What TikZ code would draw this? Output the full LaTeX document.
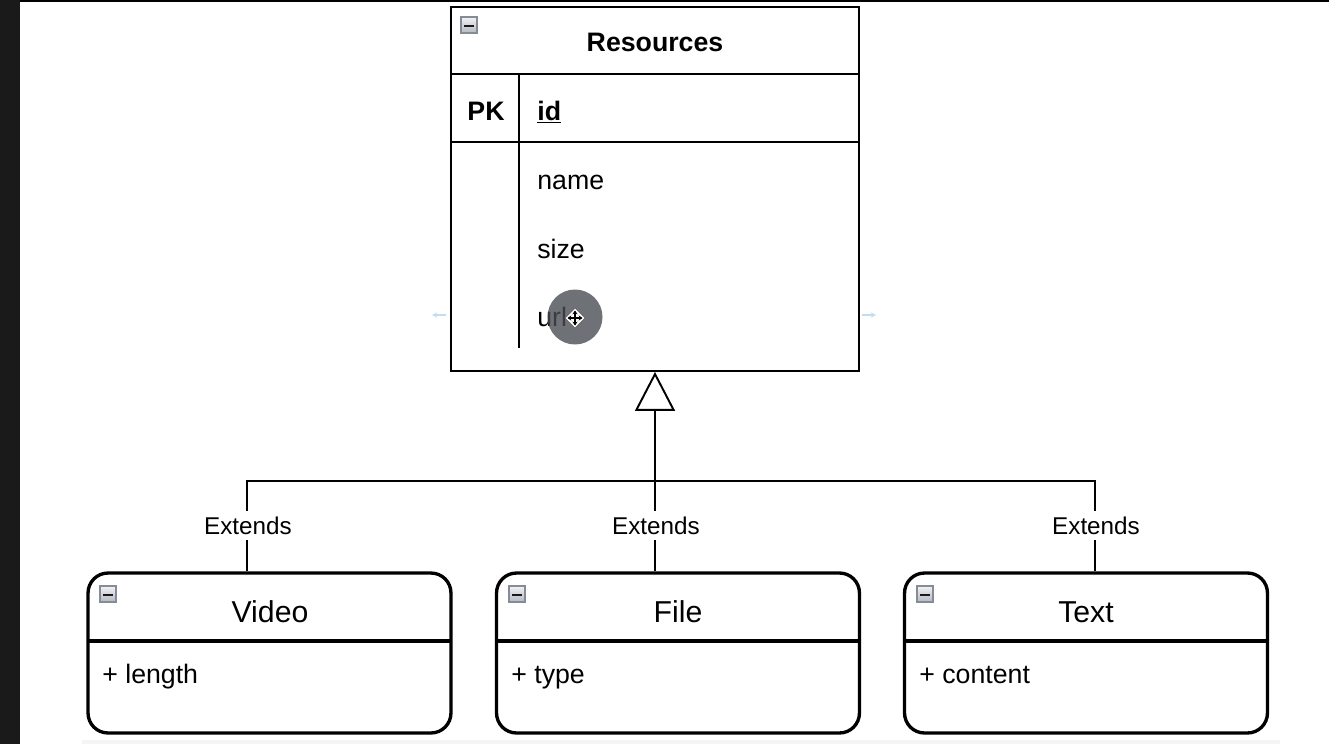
\documentclass[tikz,border=0pt]{standalone}
\usepackage{fontspec}
\setmainfont{Liberation Sans}
\usetikzlibrary{arrows.meta}
\definecolor{stripcol}{HTML}{1A1A1A}
\definecolor{hintblue}{HTML}{C4DDEE}
\definecolor{iconborder}{HTML}{868B98}
\definecolor{icontop}{HTML}{F2F2F4}
\definecolor{iconbot}{HTML}{B4B8C2}
\definecolor{cursorcol}{HTML}{4A4D53}
\begin{document}
\begin{tikzpicture}[x=0.02cm,y=-0.02cm,
  resbox/.style={draw, line width=1.1pt, minimum width=8.16cm, minimum height=7.28cm, inner sep=0pt},
  clsbox/.style={draw, line width=1.9pt, rounded corners=0.4cm, minimum width=7.26cm, minimum height=3.2cm, inner sep=0pt},
  thinline/.style={line width=1.1pt},
  clsline/.style={line width=1.9pt},
  conn/.style={line width=1.1pt},
  rowtxt/.style={font=\fontsize{15.2}{18}\selectfont, inner sep=0pt},
  boldtxt/.style={font=\bfseries\fontsize{15.2}{18}\selectfont, inner sep=0pt},
  titletxt/.style={font=\fontsize{17.2}{20}\selectfont, inner sep=0pt, anchor=base},
  lbl/.style={font=\fontsize{13.8}{16}\selectfont, fill=white, inner xsep=1pt, inner ysep=3pt, anchor=base},
  minusicon/.style={draw=iconborder, line width=0.9pt, top color=icontop, bottom color=iconbot,
    minimum size=0.32cm, inner sep=0pt,
    path picture={\draw[line width=1.5pt, black!90] ([xshift=0.06cm,yshift=-0.02cm]path picture bounding box.west) -- ([xshift=-0.06cm,yshift=-0.02cm]path picture bounding box.east);}},
  hint/.style={hintblue, line width=0.8pt, -{Stealth[length=3pt,width=3pt]}},
  movearrow/.style={black, line width=0.7pt, {Stealth[length=2.2pt,width=3pt]}-{Stealth[length=2.2pt,width=3pt]}}
]
\useasboundingbox (0,0) rectangle (1329,744);
% screen frame
\fill[stripcol] (0,0) rectangle (20,744);
\fill[black] (20,0) rectangle (1329,1.6);
\fill[gray!8] (82,740) rectangle (1280,744);

% Resources entity
\node[resbox] (res) at (655,189) {};
\draw[thinline] (451,74) -- (859,74);
\draw[thinline] (451,142) -- (859,142);
\draw[thinline] (519,74) -- (519,348);
\node[minusicon] (resicon) at (469,25) {};
\node[boldtxt, anchor=base] (restitle) at (655,51.7) {Resources};
\node[boldtxt, anchor=base] (pk) at (486,120) {PK};
\node[boldtxt, anchor=base west] (id) at (537,120) {\underline{id}};
\node[rowtxt, anchor=base west] (name) at (537,189) {name};
\node[rowtxt, anchor=base west] (size) at (537,258) {size};
\node[rowtxt, anchor=base west] (url) at (537,326) {url};

% hint arrows
\coordinate (hl1) at (446,315); \coordinate (hl2) at (432,315);
\coordinate (hr1) at (862,315); \coordinate (hr2) at (876,315);
\draw[hint] (hl1) -- (hl2);
\draw[hint] (hr1) -- (hr2);

% cursor
\node[circle, fill=cursorcol, opacity=0.8, minimum size=1.1cm, inner sep=0pt] (cur) at (575,317) {};
\coordinate (mv) at (575,318);
\fill[white, draw=black!60, line width=0.4pt] ([xshift=-0.2cm]mv) -- ([yshift=0.2cm]mv) -- ([xshift=0.2cm]mv) -- ([yshift=-0.2cm]mv) -- cycle;
\draw[movearrow] ([xshift=-0.15cm]mv) -- ([xshift=0.15cm]mv);
\draw[movearrow] ([yshift=-0.15cm]mv) -- ([yshift=0.15cm]mv);

% class boxes
\node[clsbox] (video) at (269.5,653) {};
\node[clsbox] (file) at (678,653) {};
\node[clsbox] (text) at (1086,653) {};
\draw[clsline] (88,641) -- (451,641);
\draw[clsline] (497,641) -- (859,641);
\draw[clsline] (905,641) -- (1267,641);
\node[minusicon] (vicon) at (108,594) {};
\node[minusicon] (ficon) at (517,594) {};
\node[minusicon] (ticon) at (925,594) {};
\node[titletxt] (vtitle) at (270,622) {Video};
\node[titletxt] (ftitle) at (678,622) {File};
\node[titletxt] (ttitle) at (1086,622) {Text};
\node[rowtxt, anchor=base west] (vattr) at (102,683) {+ length};
\node[rowtxt, anchor=base west] (fattr) at (511,683) {+ type};
\node[rowtxt, anchor=base west] (tattr) at (919,683) {+ content};

% connectors
\coordinate (jv) at (247,481);
\coordinate (jf) at (655,481);
\coordinate (jt) at (1095,481);
\draw[conn, -{Triangle[open, fill=white, length=0.78cm, width=0.8cm]}] (jf |- file.north) -- (jf |- res.south);
\draw[conn] (jv |- video.north) -- (jv) -- (jt) -- (jt |- text.north);
\node[lbl] (e1) at (248,534) {Extends};
\node[lbl] (e2) at (656,534) {Extends};
\node[lbl] (e3) at (1096,534) {Extends};
\end{tikzpicture}
\end{document}
